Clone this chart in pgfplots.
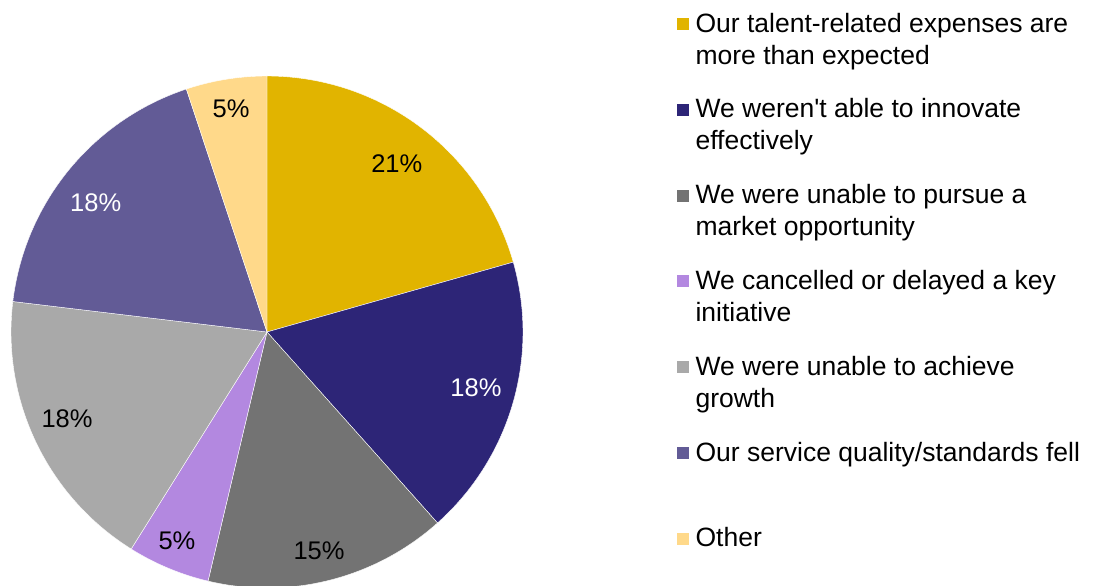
\documentclass[border=0pt]{standalone}
\usepackage{pgfplots}
\pgfplotsset{compat=1.18}
\usepackage{pgfplotstable}
\usepackage{fontspec}
\setmainfont{Liberation Sans}
\definecolor{slice0}{HTML}{E1B400}
\definecolor{slice1}{HTML}{2D2577}
\definecolor{slice2}{HTML}{737373}
\definecolor{slice3}{HTML}{B388E0}
\definecolor{slice4}{HTML}{A9A9A9}
\definecolor{slice5}{HTML}{625B96}
\definecolor{slice6}{HTML}{FFD98A}

% share of each slice (clockwise from 12 o'clock), printed label,
% label colour, label radius and label angle
\pgfplotstableread{
share label txt lr la
20.6 21 black 0.831 52.4
17.8 18 white 0.845 -15.0
15.3 15 black 0.877 -76.6
5.2 5 black 0.889 -113.3
18.0 18 black 0.851 203.4
18.0 18 white 0.838 143.0
5.1 5 black 0.885 99.1
}\piedata

\newcommand\LE[1]{\parbox[t]{420pt}{\raggedright\fontsize{26.5}{32}\selectfont #1}}

\begin{document}
\begin{tikzpicture}[font=\fontsize{25.5}{32}\selectfont]
\useasboundingbox (0,0) rectangle (1093pt,586pt);
\begin{axis}[
  at={(0,0)}, anchor=south west,
  scale only axis, width=1093pt, height=586pt,
  hide axis,
  xmin=-1.04297, xmax=3.22656, ymin=-0.99219, ymax=1.29688,
  legend image code/.code={\fill[#1] (0pt,2pt) rectangle (13.5pt,15pt);},
  legend style={draw=none, fill=none, inner sep=0pt,
    at={(0.6180,0.98294)}, anchor=north west,
    cells={anchor=base west},
    nodes={inner sep=0pt, text height=22pt, text depth=63.8pt},
    column sep=6pt, row sep=0pt},
]
\pgfmathsetmacro\cum{0}
\pgfplotsforeachungrouped \i in {0,...,6}{%
  \pgfplotstablegetelem{\i}{share}\of\piedata \let\v\pgfplotsretval
  \pgfplotstablegetelem{\i}{label}\of\piedata \let\lbl\pgfplotsretval
  \pgfplotstablegetelem{\i}{txt}\of\piedata \let\tc\pgfplotsretval
  \pgfplotstablegetelem{\i}{lr}\of\piedata \let\lr\pgfplotsretval
  \pgfplotstablegetelem{\i}{la}\of\piedata \let\la\pgfplotsretval
  \pgfmathsetmacro\a{90-3.6*\cum}%
  \pgfmathsetmacro\b{90-3.6*(\cum+\v)}%
  \pgfmathsetmacro\lx{\lr*cos(\la)}%
  \pgfmathsetmacro\ly{\lr*sin(\la)}%
  \edef\cmd{%
    \noexpand\addplot[fill=slice\i, draw=white, line width=0.4pt, domain=\b:\a, samples=90]
      ({cos(x)},{sin(x)}) -- (axis cs:0,0) -- cycle;
    \noexpand\node[text=\tc] at (axis cs:\lx,\ly) {\lbl\noexpand\%};
  }\cmd
  \pgfmathsetmacro\cum{\cum+\v}%
}
\legend{
  {\LE{Our talent-related expenses are\\more than expected}},
  {\LE{We weren\textquotesingle t able to innovate\\effectively}},
  {\LE{We were unable to pursue a\\market opportunity}},
  {\LE{We cancelled or delayed a key\\initiative}},
  {\LE{We were unable to achieve\\growth}},
  {\LE{Our service quality/standards fell}},
  {\LE{Other}}
}
\end{axis}
\end{tikzpicture}
\end{document}
